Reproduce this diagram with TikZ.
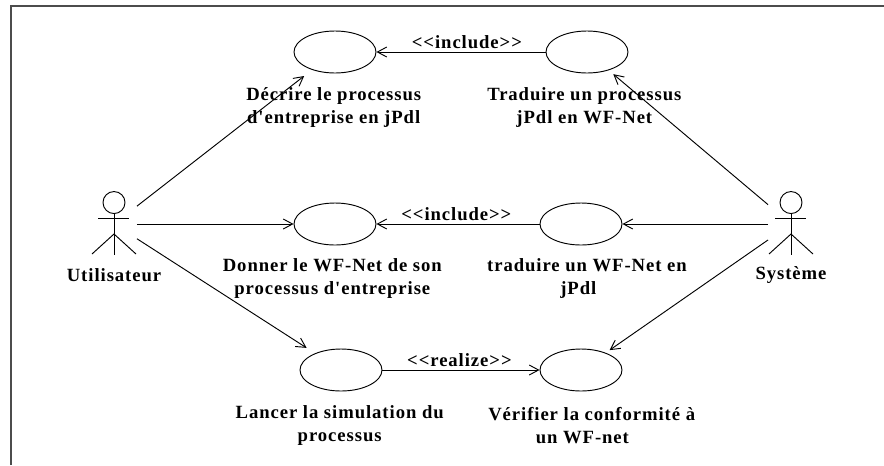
\documentclass[tikz,border=0pt]{standalone}
\usepackage{fontspec}
\usepackage{pgf, tikz}
\usetikzlibrary{shapes.geometric, arrows.meta}
\newfontfamily\umlfont[LetterSpace=5]{Liberation Serif}
\newcommand{\stickman}[1]{
 \draw [-] (#1.north) ++(0,11) circle [radius=8.25pt];
 \draw [-] (#1.north) ++(0,22) -- ++(0,41);
 \draw [-] (#1.north) ++(-16,27) -- ++(31,0);
 \draw [-] (#1.center) ++(-22,30) -- ++(22,-20) -- ++(22,20);
}

\begin{document}
\begin{tikzpicture}[x=0.75pt,y=-0.75pt,->,>={Straight Barb[length=7pt,width=7.5pt]},line width=0.7pt]
 % styles
 \tikzstyle{usecase} = [ellipse,draw=black,fill=white,inner sep=0pt,minimum width=61.5pt,minimum height=31.5pt];
 \tikzstyle{caption} = [align=center,inner sep=0pt,font=\umlfont\bfseries\fontsize{14pt}{17pt}\selectfont];
 \tikzstyle{actor} = [inner sep=0pt,minimum width=33.75pt,minimum height=48pt];
 \tikzstyle{stereo} = [above,inner sep=2pt,font=\umlfont\bfseries\fontsize{14pt}{16pt}\selectfont];

 % frame
 \useasboundingbox (0,0) rectangle (884,465);
 \draw [-,line width=1.5pt,draw=black!70] (11,465) -- (11,6) -- (884,6);

 % nodes
 \node[usecase] at (335,52) (decrire) {};
 \node[usecase,right of=decrire,node distance=189pt] (traduire) {};
 \node[usecase,below of=decrire,node distance=129pt] (donner) {};
 \node[usecase,right of=donner,node distance=184.5pt] (inverse) {};
 \node[usecase,below of=donner,node distance=109.5pt,xshift=4.5pt] (lancer) {};
 \node[usecase,right of=lancer,node distance=180pt] (verifier) {};

 \node[caption,below of=decrire,node distance=41.5pt,xshift=-1pt] (decrirelbl) {Décrire le processus\\d'entreprise en jPdl};
 \node[caption,below of=traduire,node distance=41.5pt,xshift=-2pt] (traduirelbl) {Traduire un processus\\jPdl en WF-Net};
 \node[caption,below of=donner,node distance=41pt,xshift=-2pt] (donnerlbl) {Donner le WF-Net de son\\processus d'entreprise};
 \node[caption,below of=inverse,node distance=41pt,xshift=4.5pt] (inverselbl) {traduire un WF-Net en\\jPdl\hspace*{13pt}};
 \node[caption,below of=lancer,node distance=41.5pt,xshift=-1pt] (lancerlbl) {Lancer la simulation du\\processus};
 \node[caption,below of=verifier,node distance=41.5pt,xshift=8pt] (verifierlbl) {Vérifier la conformité à\\un WF-net\hspace*{14pt}};

 \node[actor] at (114,224) (user) {};
 \node[actor] at (791,224) (system) {};
 \node[caption,below of=user,node distance=38pt] (userlbl) {Utilisateur};
 \node[caption,below of=system,node distance=38pt] (systemlbl) {Système};

 \stickman{user}
 \stickman{system}

 % edges
 \path (user)
       edge [shorten >=7.5pt] (decrire)
       edge (donner)
       edge [shorten >=7.5pt] (lancer);

 \path (system)
       edge [shorten >=4.5pt] (traduire)
       edge (inverse)
       edge [shorten >=3.5pt] (verifier);

 \path (traduire) edge node[stereo,pos=.465] {<<include>>} (decrire);
 \path (inverse) edge node[stereo,pos=.51] {<<include>>} (donner);
 \path (lancer) edge node[stereo,pos=.49] {<<realize>>} (verifier);
\end{tikzpicture}
\end{document}
